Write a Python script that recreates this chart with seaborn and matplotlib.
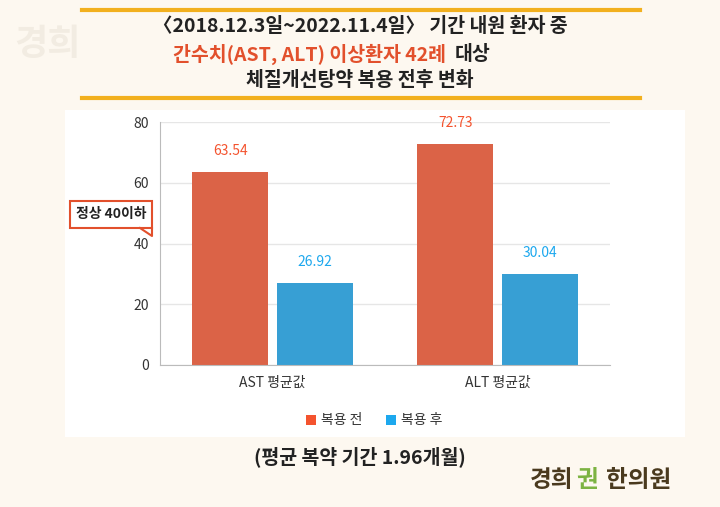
import matplotlib
matplotlib.use("Agg")
import matplotlib.pyplot as plt
import seaborn as sns
import pandas as pd
from matplotlib.patches import Rectangle, FancyBboxPatch

categories = ["AST 평균값", "ALT 평균값"]
before = [63.54, 72.73]
after = [26.92, 30.04]
series = ["복용 전", "복용 후"]

df = pd.DataFrame({
    "cat": categories * 2,
    "val": before + after,
    "grp": [series[0]] * 2 + [series[1]] * 2,
})

plt.rcParams["font.family"] = "Noto Sans CJK KR"
fig = plt.figure(figsize=(7.2, 5.07), dpi=100)
fig.patch.set_facecolor("#FDF8F0")

# white panel
fig.patches.append(Rectangle((65 / 720, 1 - 437 / 507), 620 / 720, 327 / 507,
                             transform=fig.transFigure, facecolor="white", edgecolor="none", zorder=0))

# title lines
fig.add_artist(plt.Line2D([82 / 720, 640 / 720], [1 - 10 / 507] * 2, color="#F2B01E", lw=3))
fig.add_artist(plt.Line2D([82 / 720, 640 / 720], [1 - 98 / 507] * 2, color="#F2B01E", lw=3))
fig.text(0.5, 1 - 26 / 507, "〈2018.12.3일~2022.11.4일〉 기간 내원 환자 중", ha="center", va="center",
         fontsize=14, fontweight="bold", color="#222222")
fig.text(0.62, 1 - 54 / 507, "간수치(AST, ALT) 이상환자 42례", ha="right", va="center",
         fontsize=14, fontweight="bold", color="#E2502C")
fig.text(0.632, 1 - 54 / 507, "대상", ha="left", va="center",
         fontsize=14, fontweight="bold", color="#222222")
fig.text(0.5, 1 - 80 / 507, "체질개선탕약 복용 전후 변화", ha="center", va="center",
         fontsize=14, fontweight="bold", color="#222222")
fig.text(0.02, 1 - 45 / 507, "경희", fontsize=26, fontweight="bold", color="#F2ECE2", va="center")

ax = fig.add_axes([160 / 720, 1 - 365 / 507, 450 / 720, 243 / 507])
ax.set_zorder(3)
sns.barplot(data=df, x="cat", y="val", hue="grp", palette=["#F4532E", "#1DA8EE"],
            width=0.75, gap=0.1, ax=ax, legend=False)
ax.set_ylim(0, 80)
ax.set_xlim(-0.5, 1.5)
ax.set_yticks([0, 20, 40, 60, 80])
ax.set_xlabel("")
ax.set_ylabel("")
ax.set_facecolor("white")
ax.grid(axis="y", color="#E6E6E6", lw=1)
ax.set_axisbelow(True)
for s in ["top", "right"]:
    ax.spines[s].set_visible(False)
ax.spines["left"].set_color("#BBBBBB")
ax.spines["bottom"].set_color("#BBBBBB")
ax.tick_params(length=0, labelsize=10, colors="#333333", pad=8)
for c, col in zip(ax.containers, ["#F4532E", "#1DA8EE"]):
    ax.bar_label(c, labels=[f"{v:.2f}" for v in c.datavalues], padding=10, color=col, fontsize=10)

# callout
fig.patches.append(FancyBboxPatch((70 / 720, 1 - 228 / 507), 82 / 720, 27 / 507,
                                  boxstyle="square,pad=0", transform=fig.transFigure,
                                  facecolor="white", edgecolor="#E2502C", lw=1.5, zorder=4))
fig.text(111 / 720, 1 - 214 / 507, "정상 40이하", ha="center", va="center", fontsize=10,
         fontweight="bold", color="#222222", zorder=5)
fig.add_artist(plt.Line2D([140 / 720, 152 / 720, 152 / 720], [1 - 228 / 507, 1 - 236 / 507, 1 - 228 / 507],
                          color="#E2502C", lw=1.5, zorder=5))

# legend
for x0, lab, col in [(306, series[0], "#F4532E"), (386, series[1], "#1DA8EE")]:
    fig.patches.append(Rectangle((x0 / 720, 1 - 425 / 507), 10 / 720, 10 / 507,
                                 transform=fig.transFigure, facecolor=col, zorder=4))
    fig.text((x0 + 15) / 720, 1 - 420 / 507, lab, va="center", fontsize=10, color="#333333")

fig.text(0.5, 1 - 457 / 507, "(평균 복약 기간 1.96개월)", ha="center", va="center",
         fontsize=14, fontweight="bold", color="#222222")
fig.text(530 / 720, 1 - 480 / 507, "경희", fontsize=17, fontweight="bold", color="#4A3A1E", va="center")
fig.text(576 / 720, 1 - 480 / 507, "권", fontsize=17, fontweight="bold", color="#7CB342", va="center")
fig.text(606 / 720, 1 - 480 / 507, "한의원", fontsize=17, fontweight="bold", color="#4A3A1E", va="center")

fig.savefig("out.png", dpi=100, facecolor=fig.get_facecolor())
